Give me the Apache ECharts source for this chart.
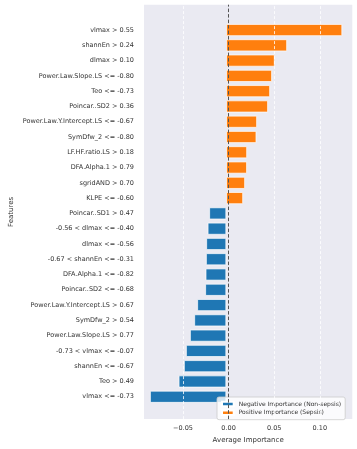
<!DOCTYPE html>
<html>
<head>
<meta charset="utf-8">
<script src="https://cdn.jsdelivr.net/npm/echarts@6/dist/echarts.min.js"></script>
<style>
  html, body { margin: 0; padding: 0; background: #fff; }
  #chart { width: 357px; height: 449px; }
</style>
</head>
<body>
<div id="chart"></div>
<script>
const features = [
  'vlmax > 0.55', 'shannEn > 0.24', 'dlmax > 0.10', 'Power.Law.Slope.LS <= -0.80',
  'Teo <= -0.73', 'Poincar..SD2 > 0.36', 'Power.Law.Y.Intercept.LS <= -0.67', 'SymDfw_2 <= -0.80',
  'LF.HF.ratio.LS > 0.18', 'DFA.Alpha.1 > 0.79', 'sgridAND > 0.70', 'KLPE <= -0.60',
  'Poincar..SD1 > 0.47', '-0.56 < dlmax <= -0.40', 'dlmax <= -0.56', '-0.67 < shannEn <= -0.31',
  'DFA.Alpha.1 <= -0.82', 'Poincar..SD2 <= -0.68', 'Power.Law.Y.Intercept.LS > 0.67', 'SymDfw_2 > 0.54',
  'Power.Law.Slope.LS > 0.77', '-0.73 < vlmax <= -0.07', 'shannEn <= -0.67', 'Teo > 0.49', 'vlmax <= -0.73'
]
const importance = [
  0.1247, 0.0654, 0.0521, 0.0492,
  0.0471, 0.0449, 0.0331, 0.0324,
  0.0224, 0.0223, 0.0202, 0.0181,
  -0.0182, -0.0199, -0.0214, -0.0217,
  -0.0221, -0.0225, -0.0311, -0.0343,
  -0.0389, -0.0432, -0.0454, -0.0511, -0.0819
]
const xTicks = [-0.05, 0, 0.05, 0.1]
const seriesNames = ['Negative Importance (Non-sepsis)', 'Positive Importance (Sepsis)']

const X_MIN = -0.0927
const X_MAX = 0.1356
const NEG_COLOR = '#1f77b4'
const POS_COLOR = '#ff7f0e'
const TEXT_COLOR = '#333333'

const negValues = importance.map((v) => (v < 0 ? v : '-'))
const posValues = importance.map((v) => (v > 0 ? v : '-'))
const fmt = (v) => (v < 0 ? '\u2212' : '') + Math.abs(v).toFixed(2)

const chart = echarts.init(document.getElementById('chart'))

const option = {
  animation: false,
  textStyle: { fontFamily: 'DejaVu Sans' },
  grid: [
    { left: 140, right: 4.7, top: 4.7, bottom: 28.3, show: true, backgroundColor: '#eaeaf2', borderWidth: 0 },
    { left: 140, right: 4.7, top: 22.4, bottom: 44.6 },
  ],
  xAxis: [
    {
      type: 'value', gridIndex: 0, min: X_MIN, max: X_MAX,
      axisLine: { show: false }, axisTick: { show: false }, splitLine: { show: false },
      axisLabel: { customValues: xTicks, formatter: fmt, fontSize: 6.5, color: TEXT_COLOR, margin: 6 },
      name: 'Average Importance', nameLocation: 'middle', nameGap: 16,
      nameTextStyle: { fontSize: 7, color: TEXT_COLOR },
    },
    { type: 'value', gridIndex: 1, min: X_MIN, max: X_MAX, show: false },
  ],
  yAxis: [
    {
      type: 'value', gridIndex: 0, min: 0, max: 1,
      axisLine: { show: false }, axisTick: { show: false }, axisLabel: { show: false }, splitLine: { show: false },
      name: 'Features', nameLocation: 'middle', nameGap: 129, nameRotate: 90,
      nameTextStyle: { fontSize: 7, color: TEXT_COLOR },
    },
    {
      type: 'category', gridIndex: 1, data: features, inverse: true,
      axisLine: { show: false }, axisTick: { show: false }, splitLine: { show: false },
      axisLabel: { fontSize: 6.5, color: TEXT_COLOR, margin: 6, interval: 0 },
    },
  ],
  legend: {
    data: seriesNames,
    orient: 'vertical',
    left: 217,
    top: 397,
    icon: 'rect',
    itemWidth: 11.7,
    itemHeight: 4.5,
    itemGap: 1.7,
    padding: [3.5, 4, 3.5, 4],
    backgroundColor: 'rgba(255,255,255,0.8)',
    borderColor: '#cccccc',
    borderWidth: 0.8,
    borderRadius: 2,
    textStyle: { fontSize: 6, color: TEXT_COLOR, lineHeight: 7 },
  },
  series: [
    {
      type: 'line', xAxisIndex: 0, yAxisIndex: 0, data: [], silent: true, z: 1,
      markLine: {
        silent: true, symbol: 'none', label: { show: false },
        lineStyle: { color: '#ffffff', type: [3, 2], width: 0.8 },
        data: xTicks.filter((t) => t !== 0).map((t) => ({ xAxis: t })),
      },
    },
    {
      name: seriesNames[0], type: 'bar', xAxisIndex: 1, yAxisIndex: 1, data: negValues,
      barWidth: '78%', barGap: '-100%',
      itemStyle: { color: NEG_COLOR, borderColor: '#ffffff', borderWidth: 0.7 },
    },
    {
      name: seriesNames[1], type: 'bar', xAxisIndex: 1, yAxisIndex: 1, data: posValues,
      barWidth: '78%', barGap: '-100%',
      itemStyle: { color: POS_COLOR, borderColor: '#ffffff', borderWidth: 0.7 },
    },
    {
      type: 'line', xAxisIndex: 0, yAxisIndex: 0, data: [], silent: true, z: 5,
      markLine: {
        silent: true, symbol: 'none', label: { show: false },
        lineStyle: { color: '#555555', type: [3.5, 2], width: 1 },
        data: [{ xAxis: 0 }],
      },
    },
  ],
}

chart.setOption(option)
</script>
</body>
</html>
